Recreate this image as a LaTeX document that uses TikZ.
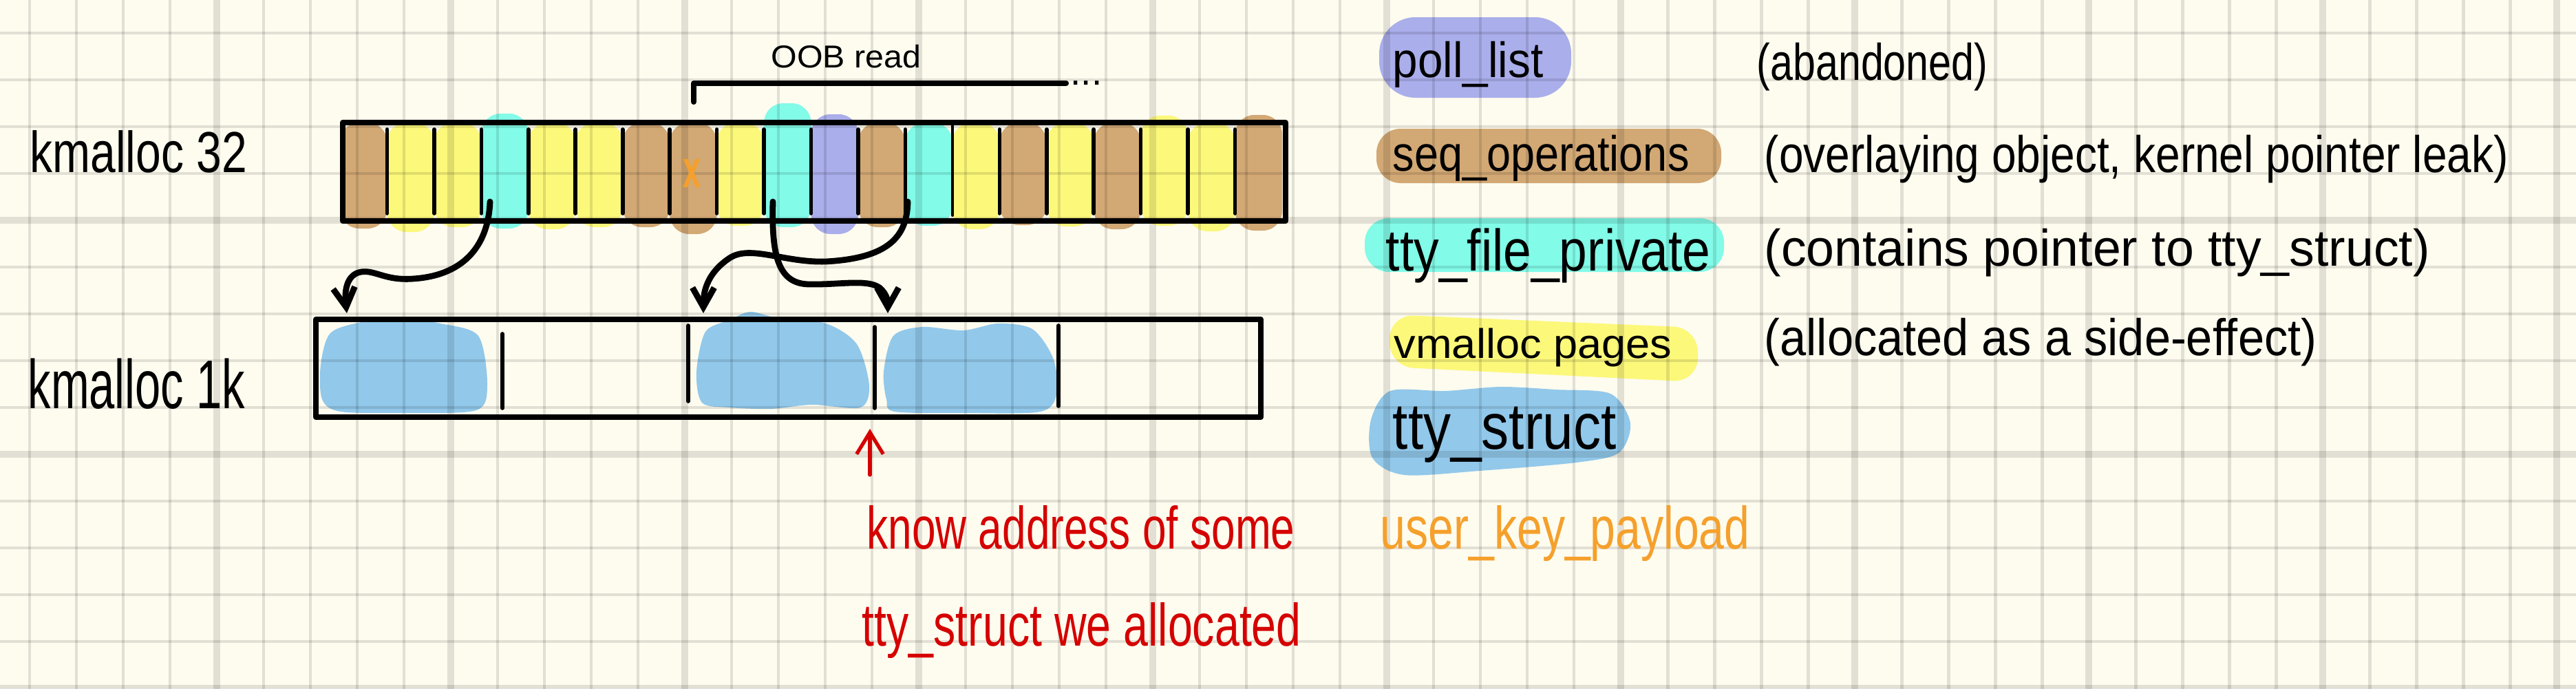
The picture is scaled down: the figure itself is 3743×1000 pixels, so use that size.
\documentclass[tikz,border=0pt]{standalone}
\usepackage{fontspec}
\setmainfont{Liberation Sans}
\usetikzlibrary{arrows.meta}
\definecolor{paper}{HTML}{FEFCEF}
\definecolor{seqc}{HTML}{D2A874}
\definecolor{vmc}{HTML}{FCF87A}
\definecolor{tfpc}{HTML}{82FBE8}
\definecolor{pollc}{HTML}{AAAEEA}
\definecolor{ttyc}{HTML}{92C8EA}
\definecolor{ukpc}{HTML}{F5A02C}
\definecolor{notec}{HTML}{D50000}
\newcommand{\narrow}[2]{\scalebox{#1}[1]{#2}}
\tikzset{
	hand/.style={inner sep=0pt, anchor=base west},
	slab/.style={draw, rectangle, line width=2.3pt, inner sep=0pt, anchor=north west},
	ptr/.style={line width=2.5pt, -{Straight Barb[length=8pt,width=9pt]}},
}
\begin{document}
\begin{tikzpicture}[x=0.01cm, y=-0.01cm, line cap=round, line join=round]
	\useasboundingbox (0,0) rectangle (3743,1000);
	\fill[paper] (0,0) rectangle (3743,1000);
	% highlighter marks
	\foreach \c/\t/\b [count=\i from 0] in {seqc/178/332, vmc/178/337, vmc/178/330, tfpc/165/332, vmc/178/333, vmc/178/330, seqc/178/330, seqc/178/340, vmc/178/328, tfpc/150/330, pollc/166/340, seqc/178/330, tfpc/178/328, vmc/178/333, seqc/178/327, vmc/178/329, seqc/178/333, vmc/168/328, vmc/178/336, seqc/167/335}
		\fill[\c, rounded corners=8pt] ({494+68.45*\i},\t) rectangle ({494+68.45*(\i+1)},\b);
	\fill[ttyc] plot[smooth cycle] coordinates {(466,530) (480,484) (525,468) (580,462) (640,470) (695,488) (708,560) (692,596) (590,600) (495,598) (468,580)};
	\fill[ttyc] plot[smooth cycle] coordinates {(1012,540) (1025,482) (1060,465) (1090,453) (1130,462) (1200,470) (1245,500) (1263,560) (1250,592) (1180,588) (1120,594) (1060,592) (1020,585)};
	\fill[ttyc] plot[smooth cycle] coordinates {(1284,540) (1298,488) (1340,475) (1400,480) (1450,470) (1500,478) (1530,520) (1536,570) (1512,598) (1400,600) (1300,598) (1288,580)};
	\fill[pollc, rounded corners=15pt] (2004,25) rectangle (2283,142);
	\fill[seqc, rounded corners=10pt] (2000,187) rectangle (2501,266);
	\fill[tfpc, rounded corners=10pt] (1983,317) rectangle (2505,395);
	\fill[vmc, rounded corners=10pt] (2019,457) -- (2467,476) -- (2467,555) -- (2019,533) -- cycle;
	\fill[ttyc] plot[smooth cycle] coordinates {(1992,610) (2020,568) (2100,568) (2180,562) (2260,566) (2340,572) (2369,615) (2352,658) (2290,672) (2150,684) (2040,690) (1994,665)};
	% squared paper
	\foreach \k in {0,...,54}{
		\pgfmathsetmacro\w{mod(\k,5)==4 ? 2.8 : 1.4}
		\draw[black, draw opacity=0.11, line width=\w pt] ({43+68*\k},0) -- ({43+68*\k},1000);
	}
	\foreach \k in {0,...,14}{
		\pgfmathsetmacro\w{mod(\k,5)==4 ? 2.8 : 1.4}
		\draw[black, draw opacity=0.11, line width=\w pt] (0,{48+68*\k}) -- (3743,{48+68*\k});
	}
	% slabs
	\node[slab, minimum width=13.69cm, minimum height=1.43cm] (k32) at (494,174) {};
	\node[slab, minimum width=13.72cm, minimum height=1.42cm] (k1k) at (455,460) {};
	\foreach \i in {1,...,12,14,15,...,19}
		\draw[line width=1.6pt] ({494+68.45*\i},188) -- ({494+68.45*\i},310);
	\draw[line width=1.1pt] ({494+68.45*13},178) -- ({494+68.45*13},313);
	\foreach \x/\t/\b in {730/485/593, 1000/473/583, 1271/475/593, 1538/473/590}
		\draw[line width=1.6pt] (\x,\t) -- (\x,\b);
	\node[hand, anchor=center, text=ukpc, font=\fontsize{22}{22}\selectfont\bfseries] (ukpx) at (1005,252) {\narrow{0.6}{x}};
	% OOB read
	\node[hand, font=\fontsize{13.1}{13}\selectfont] (oob) at (1120,98) {\narrow{1.05}{OOB read}};
	\draw[line width=2.3pt] (1008,148) -- (1008,121) -- (1549,121);
	\node[hand, font=\fontsize{15.6}{15}\selectfont] (more) at (1555,123) {...};
	% pointers
	\coordinate (T3) at (712,293);
	\coordinate (T9) at (1123,293);
	\coordinate (T12) at (1319,293);
	\coordinate (B0) at (504,455);
	\coordinate (B2) at (1022,455);
	\coordinate (B3) at (1290,455);
	\draw[ptr] (T3) .. controls (710,350) and (680,400) .. (600,405) .. controls (560,408) and (545,392) .. (525,395) .. controls (505,398) and (500,420) .. (B0);
	\draw[ptr] (T12) .. controls (1318,345) and (1290,375) .. (1200,380) .. controls (1140,382) and (1090,355) .. (1060,375) .. controls (1030,395) and (1022,420) .. (B2);
	\draw[ptr] (T9) .. controls (1121,370) and (1130,412) .. (1175,413) .. controls (1220,414) and (1260,405) .. (1278,418) .. controls (1290,428) and (1290,440) .. (B3);
	\coordinate (R0) at (1264,690);
	\coordinate (R1) at (1264,623);
	\draw[notec, line width=1.5pt, -{Straight Barb[length=9pt,width=11pt]}] (R0) -- (R1);
	% labels
	\node[hand, font=\fontsize{23.9}{24}\selectfont] (l32) at (43,250) {\narrow{0.785}{kmalloc 32}};
	\node[hand, font=\fontsize{28.5}{28}\selectfont] (l1k) at (40,593) {\narrow{0.667}{kmalloc 1k}};
	\node[hand, text=notec, font=\fontsize{24.75}{25}\selectfont] (note1) at (1259,797) {\narrow{0.714}{know address of some}};
	\node[hand, text=notec, font=\fontsize{24.75}{25}\selectfont] (note2) at (1252,938) {\narrow{0.741}{tty\_struct we allocated}};
	\node[hand, text=ukpc, font=\fontsize{24.75}{25}\selectfont] (ukp) at (2005,797) {\narrow{0.76}{user\_key\_payload}};
	\node[hand, font=\fontsize{20.5}{20}\selectfont] (poll) at (2023,112) {\narrow{0.91}{poll\_list}};
	\node[hand, font=\fontsize{20.5}{20}\selectfont] (seq) at (2023,248) {\narrow{0.874}{seq\_operations}};
	\node[hand, font=\fontsize{24.2}{24}\selectfont] (tfp) at (2013,393) {\narrow{0.86}{tty\_file\_private}};
	\node[hand, font=\fontsize{17.1}{17}\selectfont] (vm) at (2025,520) {\narrow{1.05}{vmalloc pages}};
	\node[hand, font=\fontsize{27}{27}\selectfont] (tty) at (2023,652) {\narrow{0.844}{tty\_struct}};
	\node[hand, font=\fontsize{21.3}{21}\selectfont] (dpoll) at (2552,116) {\narrow{0.79}{(abandoned)}};
	\node[hand, font=\fontsize{21.3}{21}\selectfont] (dseq) at (2563,250) {\narrow{0.854}{(overlaying object, kernel pointer leak)}};
	\node[hand, font=\fontsize{21.3}{21}\selectfont] (dtfp) at (2563,386) {\narrow{0.98}{(contains pointer to tty\_struct)}};
	\node[hand, font=\fontsize{21.3}{21}\selectfont] (dvm) at (2563,516) {\narrow{0.915}{(allocated as a side-effect)}};
\end{tikzpicture}
\end{document}
